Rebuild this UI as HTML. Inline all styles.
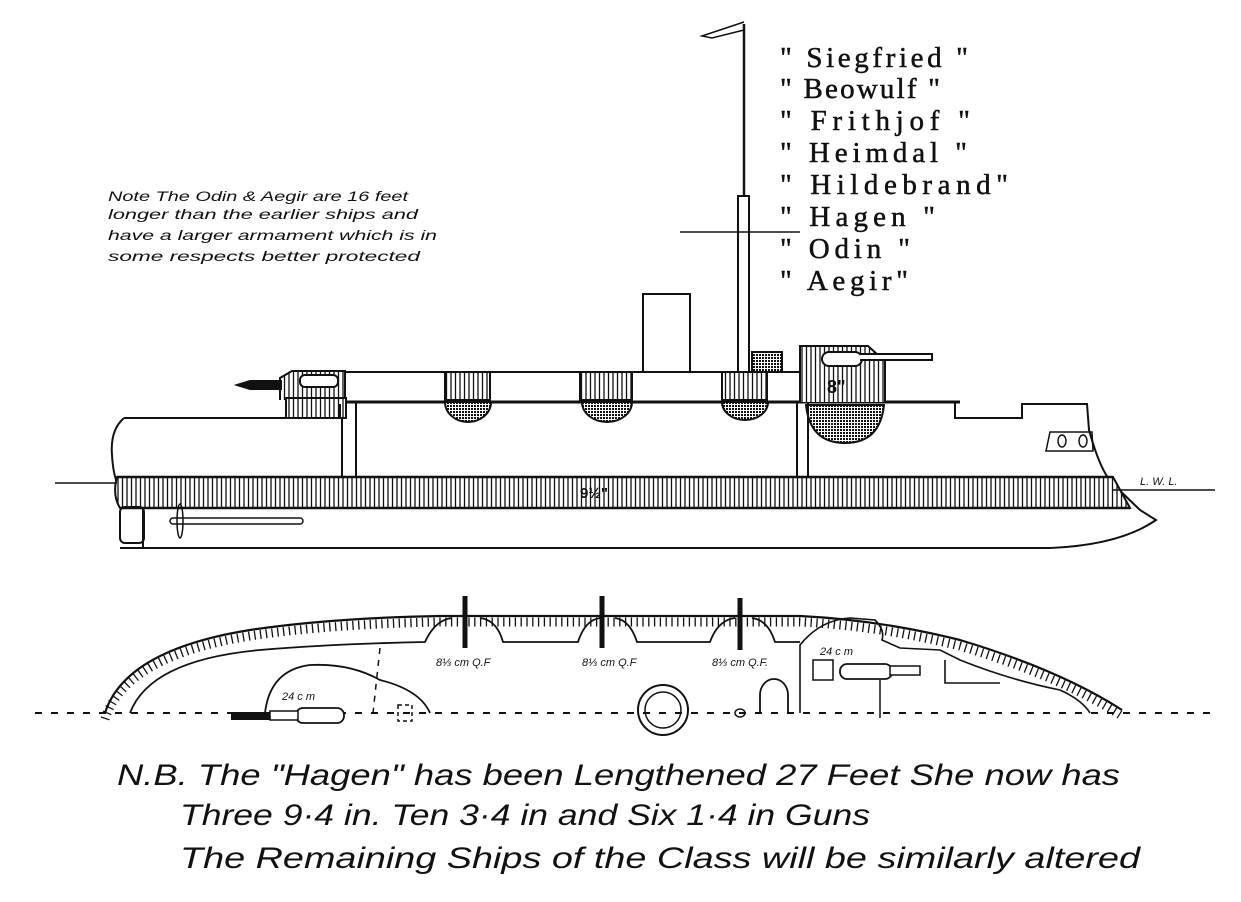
<!DOCTYPE html>
<html><head><meta charset="utf-8"><style>
html,body{margin:0;padding:0;background:#fff}
svg{display:block}
.nm{font-family:"Liberation Serif",serif;font-size:29px;fill:#111;stroke:#111;stroke-width:0.5}
.nt{font-family:"Liberation Sans",sans-serif;font-style:italic;font-size:14px;fill:#111}
.bt{font-family:"Liberation Sans",sans-serif;font-style:italic;font-size:30px;fill:#111}
.sm{font-family:"Liberation Sans",sans-serif;font-style:italic;font-size:11px;fill:#111}
</style></head><body>
<svg width="1241" height="902" viewBox="0 0 1241 902" xmlns="http://www.w3.org/2000/svg">
<defs>
<pattern id="vh" width="4.5" height="10" patternUnits="userSpaceOnUse"><rect width="4.5" height="10" fill="#fff"/><line x1="1" y1="0" x2="1" y2="10" stroke="#111" stroke-width="1.3"/></pattern>
<pattern id="dk" width="3" height="3" patternUnits="userSpaceOnUse"><rect width="3" height="3" fill="#fff"/><rect width="2" height="2" fill="#111"/></pattern>
</defs>
<g fill="none" stroke="#111" stroke-width="2">
<line x1="744" y1="24" x2="744" y2="200" stroke-width="2.5"/>
<rect x="738" y="196" width="11" height="176" fill="#fff"/>
<line x1="680" y1="232" x2="800" y2="232" stroke-width="1.5"/>
<path d="M744 22 L702 36 L712 38 L744 30" stroke-width="1.5"/>
<rect x="643" y="294" width="47" height="78" fill="#fff"/>
<path d="M345 372 L800 372 M345 372 L318 400" />
<line x1="330" y1="402" x2="960" y2="402" stroke-width="3"/>
<rect x="445" y="372" width="45" height="28" fill="url(#vh)"/>
<rect x="580" y="372" width="52" height="28" fill="url(#vh)"/>
<rect x="722" y="372" width="45" height="28" fill="url(#vh)"/>
<path d="M445 402 A23 20 0 0 0 491 402 Z" fill="url(#dk)"/>
<path d="M582 402 A25 20 0 0 0 632 402 Z" fill="url(#dk)"/>
<path d="M722 402 A23 18 0 0 0 768 402 Z" fill="url(#dk)"/>
<rect x="752" y="352" width="30" height="20" fill="url(#dk)"/>
<path d="M800 402 L800 346 L868 346 L878 355 L885 355 L885 402" fill="url(#vh)"/>
<rect x="822" y="352" width="40" height="14" rx="7" fill="#fff"/>
<path d="M860 354 L932 354 L932 360 L860 360" fill="#fff"/>
<path d="M806 405 Q810 443 845 443 Q880 443 884 405 Z" fill="url(#dk)"/>
<line x1="797" y1="402" x2="797" y2="480"/><line x1="808" y1="402" x2="808" y2="480"/>
<path d="M280 400 L280 378 L292 371 L345 371 L345 400" fill="url(#vh)"/>
<rect x="300" y="375" width="38" height="12" rx="5" fill="#fff"/>
<path d="M282 381 L250 381 L237 385 L250 389 L282 389" fill="#111"/>
<rect x="286" y="398" width="60" height="20" fill="url(#vh)"/>
<line x1="342" y1="418" x2="342" y2="478"/><line x1="356" y1="402" x2="356" y2="478"/>
<path d="M124 418 L340 418 M340 404 L340 418" />
<path d="M124 418 Q110 430 112 455 Q114 490 128 495"/>
<path d="M955 402 L955 418 L1022 418 L1022 404 L1087 404 L1089 430 Q1100 470 1112 483 L1140 510 L1156 520 Q1120 545 1050 548 L120 548"/>
<path d="M1050 432 L1092 432 L1093 451 L1046 451 Z" stroke-width="1.5"/>
<ellipse cx="1062" cy="441" rx="4" ry="6" stroke-width="1.5"/><ellipse cx="1083" cy="441" rx="4" ry="6" stroke-width="1.5"/>
<path d="M117 477 L1113 477 L1130 508 L120 508 Q112 495 117 477 Z" fill="url(#vh)"/>
<line x1="117" y1="477" x2="1113" y2="477" stroke-width="2.5"/>
<line x1="120" y1="508" x2="1130" y2="508" stroke-width="2.5"/>
<line x1="55" y1="483" x2="117" y2="483" stroke-width="1.5"/>
<line x1="1113" y1="490" x2="1215" y2="490" stroke-width="1.5"/>
<rect x="120" y="507" width="24" height="36" rx="5"/>
<line x1="143" y1="508" x2="143" y2="548"/>
<rect x="170" y="518" width="133" height="6" rx="3" stroke-width="1.5"/>
<ellipse cx="180" cy="521" rx="3" ry="17" stroke-width="1.5"/>
<line x1="35" y1="713" x2="1215" y2="713" stroke-dasharray="7 9" stroke-width="2"/>
<path d="M105 713 Q125 650 250 630 Q330 618 440 616 L800 616 Q880 620 960 640 Q1060 670 1122 710" stroke-width="2.2"/>
<path d="M105 713 Q125 650 250 630 Q330 618 440 616 L800 616 Q880 620 960 640 Q1060 670 1122 710" stroke-width="9" stroke-dasharray="1.3 4.5" transform="translate(0,6)"/>
<path d="M130 713 Q150 660 260 650 Q330 644 425 642 Q435 620 452 618 M480 618 Q497 620 503 642 L578 642 Q585 620 600 618 M615 618 Q630 620 637 642 L710 642 Q718 620 735 618 M752 618 Q768 620 775 642 L800 642" stroke-width="1.8"/>
<path d="M800 713 L800 645 Q820 620 850 618 L875 620 Q885 630 882 640 L900 648 L940 650 L960 660 Q1010 680 1060 690 Q1082 700 1090 713" stroke-width="1.6"/>
<path d="M945 660 L945 683 L1000 683" stroke-width="1.6"/>
<line x1="465" y1="596" x2="465" y2="648" stroke-width="5"/>
<line x1="602" y1="596" x2="602" y2="648" stroke-width="5"/>
<line x1="740" y1="598" x2="740" y2="650" stroke-width="5"/>
<path d="M760 713 L760 695 A14 16 0 0 1 788 695 L788 713" stroke-width="1.8"/>
<ellipse cx="740" cy="713" rx="5" ry="4" stroke-width="1.5"/>
<circle cx="663" cy="710" r="25" stroke-width="2"/><circle cx="663" cy="710" r="18" stroke-width="1.5"/>
<path d="M265 713 Q270 670 310 665 Q350 663 380 680 Q420 690 430 713" stroke-width="1.8"/>
<path d="M380 648 L373 713" stroke-dasharray="6 6" stroke-width="1.5"/>
<rect x="398" y="705" width="14" height="16" stroke-dasharray="4 3" stroke-width="1.5"/>
<rect x="296" y="708" width="48" height="15" rx="7" fill="#fff" stroke-width="1.8"/>
<rect x="270" y="711" width="28" height="9" fill="#fff" stroke-width="1.5"/>
<path d="M270 713 L232 713 L232 719 L270 719" fill="#111"/>
<rect x="813" y="660" width="20" height="20" stroke-width="1.5"/>
<rect x="840" y="664" width="52" height="15" rx="7" fill="#fff" stroke-width="1.8"/>
<rect x="890" y="666" width="30" height="9" fill="#fff" stroke-width="1.5"/>
<line x1="880" y1="680" x2="880" y2="718" stroke-width="1.5"/>
</g>
<text x="580" y="498" font-family="Liberation Sans,sans-serif" font-weight="bold" font-size="15" fill="#111">9½"</text>
<text x="827" y="393" font-family="Liberation Sans,sans-serif" font-weight="bold" font-size="18" fill="#111">8"</text>
<text x="1140" y="485" class="sm" font-size="13">L.  W.  L.</text>
<text class="sm" x="436" y="666">8⅓ cm Q.F</text>
<text class="sm" x="582" y="666">8⅓ cm Q.F</text>
<text class="sm" x="712" y="666">8⅓ cm Q.F.</text>
<text class="sm" x="282" y="700">24 c m</text>
<text class="sm" x="820" y="655">24 c m</text>
<g class="nm">
<text x="780" y="67" textLength="188" lengthAdjust="spacing">" Siegfried "</text>
<text x="780" y="98" textLength="160" lengthAdjust="spacing">" Beowulf "</text>
<text x="780" y="130" textLength="190" lengthAdjust="spacing">" Frithjof "</text>
<text x="780" y="162" textLength="187" lengthAdjust="spacing">" Heimdal "</text>
<text x="780" y="194" textLength="228" lengthAdjust="spacing">" Hildebrand"</text>
<text x="780" y="226" textLength="155" lengthAdjust="spacing">" Hagen "</text>
<text x="780" y="258" textLength="130" lengthAdjust="spacing">" Odin "</text>
<text x="780" y="290" textLength="128" lengthAdjust="spacing">" Aegir"</text>
</g>
<g class="nt">
<text x="108" y="201" textLength="300" lengthAdjust="spacingAndGlyphs">Note  The Odin &amp; Aegir are 16 feet</text>
<text x="108" y="219" textLength="310" lengthAdjust="spacingAndGlyphs">longer than the earlier ships and</text>
<text x="108" y="240" textLength="329" lengthAdjust="spacingAndGlyphs">have a larger armament which is in</text>
<text x="108" y="261" textLength="312" lengthAdjust="spacingAndGlyphs">some respects better protected</text>
</g>
<g class="bt">
<text x="117" y="785" textLength="1003" lengthAdjust="spacingAndGlyphs">N.B. The "Hagen" has been Lengthened 27 Feet She now has</text>
<text x="180" y="825" textLength="690" lengthAdjust="spacingAndGlyphs">Three 9·4 in. Ten 3·4 in and Six 1·4 in Guns</text>
<text x="180" y="868" textLength="960" lengthAdjust="spacingAndGlyphs">The Remaining Ships of the Class will be similarly altered</text>
</g>
</svg>
</body></html>
